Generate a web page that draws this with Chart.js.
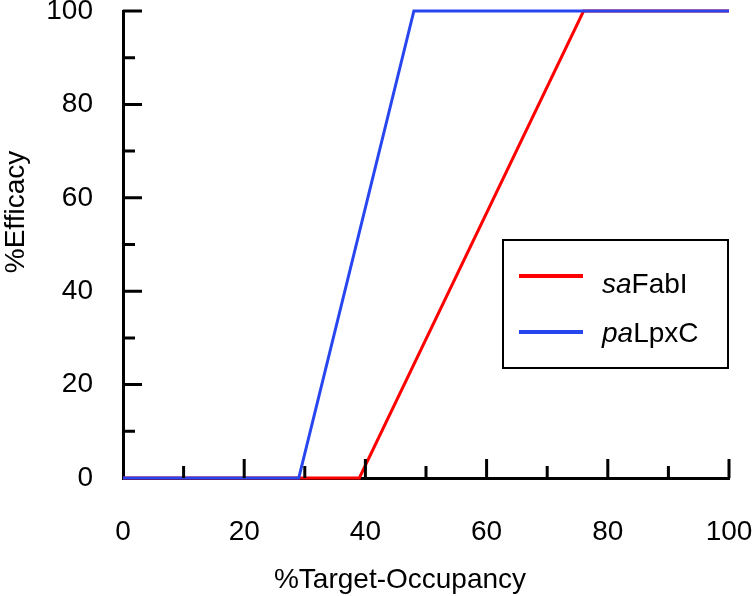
<!DOCTYPE html>
<html>
<head>
<meta charset="utf-8">
<script src="https://cdn.jsdelivr.net/npm/chart.js@4.4.1/dist/chart.umd.min.js"></script>
<style>
  html, body { margin: 0; padding: 0; background: #fff; }
  #wrap { width: 753px; height: 596px; }
</style>
</head>
<body>
<div id="wrap"><canvas id="efficacyChart"></canvas></div>
<script>
// values
const occupancyRed = [0, 39, 76, 100];
const efficacyRed = [0, 0, 100, 100];
const occupancyBlue = [0, 29, 48, 100];
const efficacyBlue = [0, 0, 100, 100];

const seriesItalic = ['sa', 'pa'];
const seriesRest = ['FabI', 'LpxC'];
const seriesColors = ['rgb(255, 0, 0)', 'rgb(40, 70, 240)'];

const xTitle = '%Target-Occupancy';
const yTitle = '%Efficacy';

const FONT = "'Liberation Sans', Arial, sans-serif";

function toPoints(xs, ys) {
    return xs.map(function(x, i) { return { x: x, y: ys[i] }; });
}

// inward tick marks, major every 20, minor every 10
const tickMarks = {
    id: 'tickMarks',
    afterDraw: function(chart) {
        const ctx = chart.ctx;
        const xs = chart.scales.x;
        const ys = chart.scales.y;
        const area = chart.chartArea;
        ctx.save();
        ctx.strokeStyle = '#000';
        ctx.lineWidth = 3;
        ctx.beginPath();
        xs.ticks.forEach(function(t) {
            if (t.value === 0) return;
            const px = xs.getPixelForValue(t.value);
            const len = t.value % 20 === 0 ? 19 : 12;
            ctx.moveTo(px, area.bottom);
            ctx.lineTo(px, area.bottom - len);
        });
        ys.ticks.forEach(function(t) {
            if (t.value === 0) return;
            const py = ys.getPixelForValue(t.value);
            const len = t.value % 20 === 0 ? 19 : 12;
            ctx.moveTo(area.left, py);
            ctx.lineTo(area.left + len, py);
        });
        ctx.stroke();
        ctx.restore();
    }
};

const axisTitles = {
    id: 'axisTitles',
    afterDraw: function(chart) {
        const ctx = chart.ctx;
        ctx.save();
        ctx.fillStyle = '#000';
        ctx.font = '28px ' + FONT;
        ctx.textAlign = 'center';
        ctx.textBaseline = 'alphabetic';
        ctx.fillText(xTitle, 400, 588);
        ctx.translate(24, 212);
        ctx.rotate(-Math.PI / 2);
        ctx.fillText(yTitle, 0, 0);
        ctx.restore();
    }
};

const boxLegend = {
    id: 'boxLegend',
    afterDraw: function(chart) {
        const ctx = chart.ctx;
        const area = chart.chartArea;
        const left = area.right - 226;
        const top = area.top + 229;
        ctx.save();
        ctx.fillStyle = '#fff';
        ctx.fillRect(left, top, 225, 128);
        ctx.strokeStyle = '#000';
        ctx.lineWidth = 2;
        ctx.strokeRect(left, top, 225, 128);
        const lineY = [36, 92];
        const baseY = [53, 102];
        chart.data.datasets.forEach(function(ds, i) {
            ctx.strokeStyle = ds.borderColor;
            ctx.lineWidth = 4;
            ctx.beginPath();
            ctx.moveTo(left + 16, top + lineY[i]);
            ctx.lineTo(left + 80, top + lineY[i]);
            ctx.stroke();
            ctx.fillStyle = '#000';
            ctx.textAlign = 'left';
            ctx.textBaseline = 'alphabetic';
            ctx.font = 'italic 28px ' + FONT;
            ctx.fillText(seriesItalic[i], left + 99, top + baseY[i]);
            const w = ctx.measureText(seriesItalic[i]).width;
            ctx.font = '28px ' + FONT;
            ctx.fillText(seriesRest[i], left + 99 + w, top + baseY[i]);
        });
        ctx.restore();
    }
};

const ctx = document.getElementById('efficacyChart');

new Chart(ctx, {
    type: 'line',
    data: {
        datasets: [
            {
                label: seriesItalic[0] + seriesRest[0],
                data: toPoints(occupancyRed, efficacyRed),
                borderColor: seriesColors[0],
                borderWidth: 3,
                pointRadius: 0,
                tension: 0,
                clip: false,
                order: 1
            },
            {
                label: seriesItalic[1] + seriesRest[1],
                data: toPoints(occupancyBlue, efficacyBlue),
                borderColor: seriesColors[1],
                borderWidth: 3,
                pointRadius: 0,
                tension: 0,
                clip: false,
                order: 0
            }
        ]
    },
    options: {
        responsive: true,
        maintainAspectRatio: false,
        animation: false,
        layout: { padding: { top: 11, right: 24, left: 0, bottom: 0 } },
        scales: {
            x: {
                type: 'linear',
                min: 0,
                max: 100,
                grid: { display: false, drawTicks: false, tickLength: 0 },
                border: { display: true, color: '#000', width: 3 },
                ticks: {
                    stepSize: 10,
                    padding: 44,
                    color: '#000',
                    maxRotation: 0,
                    autoSkip: false,
                    font: { family: FONT, size: 28, lineHeight: 0.75 },
                    callback: function(v) { return v % 20 === 0 ? v : ''; }
                },
                afterFit: function(scale) {
                    scale.height = 118;
                    scale.paddingLeft = 0;
                    scale.paddingRight = 0;
                }
            },
            y: {
                min: 0,
                max: 100,
                grid: { display: false, drawTicks: false, tickLength: 0 },
                border: { display: true, color: '#000', width: 3 },
                ticks: {
                    stepSize: 10,
                    padding: 30,
                    color: '#000',
                    autoSkip: false,
                    font: { family: FONT, size: 28, lineHeight: 0.75 },
                    callback: function(v) { return v % 20 === 0 ? v : ''; }
                },
                afterFit: function(scale) {
                    scale.width = 123;
                    scale.paddingTop = 0;
                    scale.paddingBottom = 0;
                }
            }
        },
        plugins: {
            legend: { display: false },
            tooltip: { enabled: false }
        }
    },
    plugins: [tickMarks, axisTitles, boxLegend]
});
</script>
</body>
</html>
